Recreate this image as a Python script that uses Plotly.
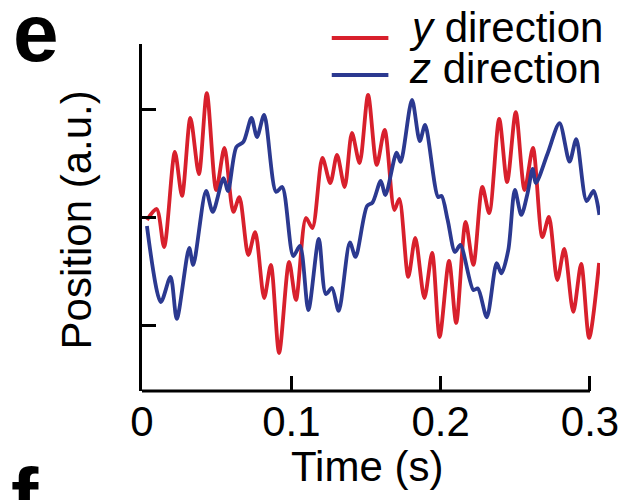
import plotly.graph_objects as go

# ---- data ----
t_y = [0.0033, 0.0098, 0.0148, 0.0220, 0.0268, 0.0324, 0.0381, 0.0434, 0.0497, 0.0552,
       0.0612, 0.0652, 0.0712, 0.0758, 0.0818, 0.0863, 0.0918, 0.0985, 0.1031, 0.1098,
       0.1141, 0.1208, 0.1261, 0.1306, 0.1357, 0.1406, 0.1457, 0.1514, 0.1572, 0.1625,
       0.1690, 0.1723, 0.1783, 0.1830, 0.1891, 0.1943, 0.1993, 0.2056, 0.2104, 0.2167,
       0.2219, 0.2279, 0.2325, 0.2392, 0.2445, 0.2503, 0.2562, 0.2618, 0.2681, 0.2725,
       0.2781, 0.2828, 0.2888, 0.2941, 0.2994, 0.3061]
pos_y = [-0.019, 0.083, -0.269, 0.611, 0.204, 0.926, 0.407, 1.157, 0.259, 0.648,
         0.056, 0.194, -0.343, -0.130, -0.741, -0.435, -1.250, -0.407, -0.759, 0.000,
         -0.093, 0.556, 0.324, 0.583, 0.287, 0.787, 0.509, 1.139, 0.491, 0.815,
         0.074, 0.176, -0.546, -0.185, -0.741, -0.324, -1.102, -0.398, -0.972, -0.037,
         -0.435, 0.287, 0.046, 0.917, 0.333, 0.981, 0.259, 0.648, -0.176, 0.009,
         -0.574, -0.287, -0.870, -0.426, -1.111, -0.417]

t_z = [0.0033, 0.0126, 0.0191, 0.0233, 0.0316, 0.0343, 0.0429, 0.0474, 0.0546, 0.0576,
       0.0632, 0.0679, 0.0733, 0.0770, 0.0818, 0.0898, 0.0939, 0.1013, 0.1058, 0.1114,
       0.1184, 0.1231, 0.1272, 0.1317, 0.1392, 0.1430, 0.1507, 0.1544, 0.1599, 0.1630,
       0.1705, 0.1732, 0.1808, 0.1860, 0.1896, 0.1983, 0.2006, 0.2047, 0.2096, 0.2132,
       0.2219, 0.2249, 0.2309, 0.2375, 0.2407, 0.2453, 0.2497, 0.2540, 0.2582, 0.2616,
       0.2638, 0.2715, 0.2796, 0.2863, 0.2908, 0.2977, 0.3024, 0.3063]
pos_z = [-0.074, -0.778, -0.546, -0.935, -0.278, -0.435, 0.250, 0.056, 0.370, 0.250,
         0.657, 0.704, 0.926, 0.750, 0.954, 0.241, 0.287, -0.352, -0.259, -0.852,
         -0.194, -0.704, -0.648, -0.861, -0.227, -0.361, 0.111, 0.144, 0.343, 0.213,
         0.606, 0.519, 1.093, 0.713, 0.861, 0.194, 0.204, -0.019, -0.315, -0.250,
         -0.667, -0.653, -0.919, -0.419, -0.512, -0.296, 0.259, 0.028, 0.229, 0.454,
         0.324, 0.593, 0.877, 0.521, 0.731, 0.157, 0.250, 0.028]

x_ticks = [0, 0.1, 0.2, 0.3]
x_tick_text = ["0", "0.1", "0.2", "0.3"]
y_ticks = [-1, 0, 1]

RED = "#d8202c"
BLUE = "#2b3990"
FONT = "Liberation Sans, Arial, sans-serif"

# ---- layout geometry (window pixels; page body has an 8px margin) ----
OFF = 8
W, H = 631 - OFF, 500 - OFF
L, R, T, B = 142, 603, 44, 391   # plot area in window pixels


def px(x):
    return (x - L) / (R - L)


def py(y):
    return (B - y) / (B - T)


fig = go.Figure()
fig.add_trace(go.Scatter(x=t_y, y=pos_y, mode="lines", name="y direction",
                         line=dict(color=RED, width=3.8, shape="spline", smoothing=0.8),
                         showlegend=False))
fig.add_trace(go.Scatter(x=t_z, y=pos_z, mode="lines", name="z direction",
                         line=dict(color=BLUE, width=3.8, shape="spline", smoothing=0.8),
                         showlegend=False))

fig.update_layout(
    width=W, height=H,
    margin=dict(l=L - OFF, r=(W + OFF) - R, t=T - OFF, b=(H + OFF) - B, pad=0),
    paper_bgcolor="white", plot_bgcolor="white",
    font=dict(family=FONT, size=42, color="black"),
    xaxis=dict(range=[0, 0.3067], tickvals=x_ticks, ticktext=x_tick_text,
               ticks="inside", ticklen=15, tickwidth=3, tickcolor="black",
               showline=False, showgrid=False, zeroline=False,
               tickfont=dict(size=42), ticklabelstandoff=2),
    yaxis=dict(range=[-1.602, 1.611], tickvals=y_ticks, showticklabels=False,
               ticks="inside", ticklen=14, tickwidth=3, tickcolor="black",
               showline=True, linewidth=3, linecolor="black",
               showgrid=False, zeroline=False),
)

shapes = [
    # x-axis line from 0 to 0.3
    dict(type="line", xref="x", yref="paper", x0=0, x1=0.3, y0=0, y1=0,
         line=dict(color="black", width=3)),
    # legend samples
    dict(type="line", xref="paper", yref="paper", x0=px(333), x1=px(390), y0=py(38), y1=py(38),
         line=dict(color=RED, width=4)),
    dict(type="line", xref="paper", yref="paper", x0=px(333), x1=px(390), y0=py(75), y1=py(75),
         line=dict(color=BLUE, width=4)),
]
fig.update_layout(shapes=shapes)

ann = [
    dict(text="<i>y</i> direction", x=px(409), y=py(27), xanchor="left", yanchor="middle",
         font=dict(size=42)),
    dict(text="<i>z</i> direction", x=px(409), y=py(68), xanchor="left", yanchor="middle",
         font=dict(size=42)),
    dict(text="Time (s)", x=px(368), y=py(466), xanchor="center", yanchor="middle",
         font=dict(size=42)),
    dict(text="Position (a.u.)", x=px(76), y=py(220), xanchor="center", yanchor="middle",
         textangle=-90, font=dict(size=42)),
    dict(text="<b>e</b>", x=px(35), y=py(32), xanchor="center", yanchor="middle",
         font=dict(size=82)),
    dict(text="<b>f</b>", x=px(24), y=py(496), xanchor="center", yanchor="middle",
         font=dict(size=82)),
]
for a in ann:
    a.update(xref="paper", yref="paper", showarrow=False)
fig.update_layout(annotations=ann)

fig.write_html("out.html")
